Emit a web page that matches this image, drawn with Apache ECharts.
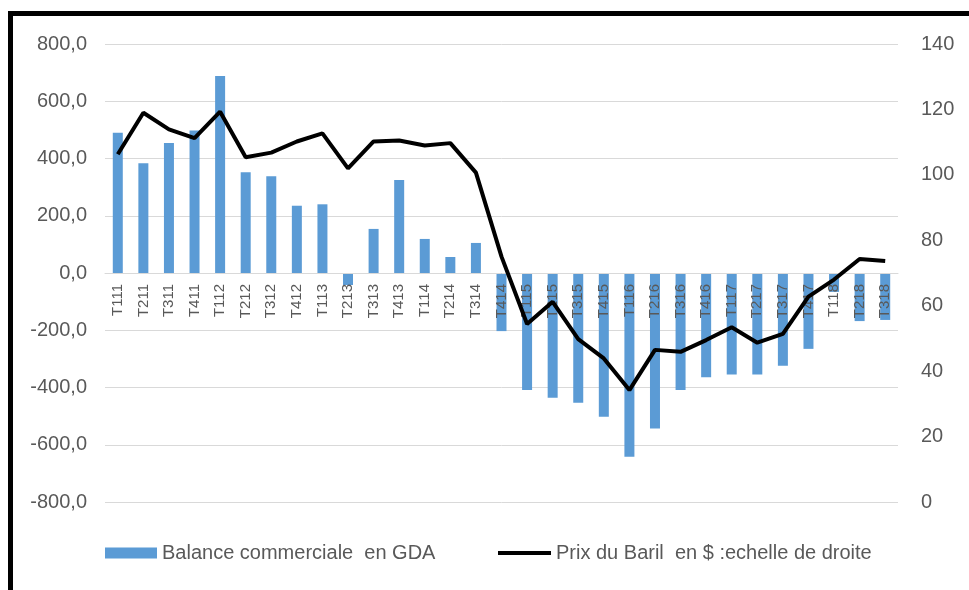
<!DOCTYPE html>
<html>
<head>
<meta charset="UTF-8">
<script src="https://cdn.jsdelivr.net/npm/echarts@6/dist/echarts.min.js"></script>
<style>
  html, body { margin: 0; padding: 0; background: #fff; }
  #main { width: 969px; height: 590px; }
</style>
</head>
<body>
<div id="main"></div>
<script>
// trimestres
var quarters = ['T111','T211','T311','T411','T112','T212','T312','T412','T113','T213','T313','T413',
  'T114','T214','T314','T414','T115','T215','T315','T415','T116','T216','T316','T416',
  'T117','T217','T317','T417','T118','T218','T318'];
// balance commerciale (axe gauche)
var balance = [490, 383, 454, 498, 688, 352, 338, 235, 240, -42, 154, 325,
  119, 56, 105, -203, -409, -436, -453, -502, -642, -543, -409, -364,
  -355, -355, -324, -265, -66, -168, -164];
// prix du baril (axe droit)
var baril = [106.3, 119.0, 113.9, 111.2, 119.3, 105.4, 106.8, 110.2, 112.7, 102.0, 110.2, 110.5,
  109.0, 109.7, 100.7, 75.0, 54.4, 61.2, 49.8, 43.9, 34.2, 46.5, 45.9, 49.5,
  53.4, 48.7, 51.4, 62.8, 68.0, 74.3, 73.7];

var nomBar = 'Balance commerciale  en GDA';
var nomLigne = 'Prix du Baril  en $ :echelle de droite';
var police = 'Liberation Sans';

var chart = echarts.init(document.getElementById('main'));
var option = {
  backgroundColor: '#fff',
  animation: false,
  graphic: [{
    type: 'rect',
    z: -1,
    shape: { x: 10.5, y: 13.5, width: 1200, height: 1200 },
    style: { fill: 'none', stroke: '#000', lineWidth: 5 }
  }],
  grid: { left: 105, right: 71, top: 44, bottom: 88 },
  legend: [{
    left: 100, top: 538,
    data: [{ name: nomBar, icon: 'rect' }],
    itemWidth: 52, itemHeight: 11,
    textStyle: { fontFamily: police, fontSize: 20, color: '#595959' }
  }, {
    left: 493, top: 538,
    data: [{ name: nomLigne, icon: 'rect', itemStyle: { color: '#000' } }],
    itemWidth: 53, itemHeight: 4,
    textStyle: { fontFamily: police, fontSize: 20, color: '#595959' }
  }],
  xAxis: {
    type: 'category',
    data: quarters,
    z: 3,
    // axe remonté sur le zéro de l'échelle de gauche
    offset: -229,
    axisLine: { onZero: false, lineStyle: { color: '#d9d9d9', width: 1 } },
    axisTick: { show: false },
    axisLabel: {
      rotate: 90, margin: 11, interval: 0,
      fontFamily: police, fontSize: 15, color: '#595959'
    }
  },
  yAxis: [{
    type: 'value',
    min: -800, max: 800, interval: 200,
    axisLine: { show: false },
    axisTick: { show: false },
    splitLine: { lineStyle: { color: '#d9d9d9', width: 1 } },
    axisLabel: {
      margin: 18, fontFamily: police, fontSize: 20, color: '#595959',
      formatter: function (v) { return v.toFixed(1).replace('.', ','); }
    }
  }, {
    type: 'value',
    min: 0, max: 140, interval: 20,
    axisLine: { show: false },
    axisTick: { show: false },
    splitLine: { show: false },
    axisLabel: { margin: 23, fontFamily: police, fontSize: 20, color: '#595959' }
  }],
  series: [{
    name: nomBar,
    type: 'bar',
    data: balance,
    barWidth: 10,
    z: 2,
    itemStyle: { color: '#5b9bd5' }
  }, {
    name: nomLigne,
    type: 'line',
    yAxisIndex: 1,
    data: baril,
    symbol: 'none',
    z: 4,
    lineStyle: { color: '#000', width: 4 },
    itemStyle: { color: '#000' }
  }]
};
chart.setOption(option);
</script>
</body>
</html>
